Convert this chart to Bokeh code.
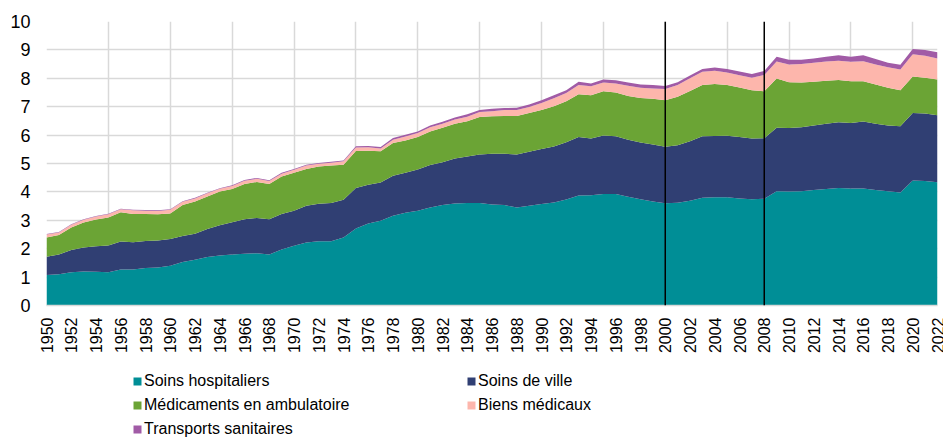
from math import pi
from bokeh.plotting import figure
from bokeh.layouts import column
from bokeh.models import ColumnDataSource, FixedTicker, Legend, LegendItem, Span
from bokeh.embed import file_html
from bokeh.resources import INLINE

years = list(range(1950, 2023))

soins_hospitaliers = [
    1.07, 1.10, 1.17, 1.20, 1.19, 1.17, 1.27, 1.27, 1.32, 1.34,
    1.40, 1.53, 1.61, 1.71, 1.76, 1.80, 1.82, 1.84, 1.80, 1.97,
    2.10, 2.22, 2.26, 2.26, 2.39, 2.71, 2.89, 2.98, 3.16, 3.27,
    3.34, 3.45, 3.54, 3.59, 3.61, 3.61, 3.56, 3.54, 3.45, 3.51,
    3.57, 3.63, 3.73, 3.87, 3.88, 3.93, 3.93, 3.83, 3.74, 3.66,
    3.60, 3.62, 3.69, 3.79, 3.81, 3.81, 3.77, 3.74, 3.76, 4.02,
    4.01, 4.02, 4.07, 4.10, 4.14, 4.12, 4.12, 4.07, 4.02, 3.98,
    4.40, 4.38, 4.34]

soins_de_ville = [
    0.65, 0.70, 0.78, 0.84, 0.90, 0.94, 0.98, 0.96, 0.95, 0.95,
    0.94, 0.92, 0.92, 0.98, 1.07, 1.13, 1.22, 1.24, 1.24, 1.25,
    1.24, 1.29, 1.32, 1.35, 1.33, 1.43, 1.36, 1.35, 1.41, 1.40,
    1.45, 1.50, 1.50, 1.59, 1.64, 1.71, 1.78, 1.80, 1.87, 1.90,
    1.94, 1.97, 2.02, 2.06, 2.00, 2.06, 2.03, 2.01, 2.00, 2.01,
    1.99, 2.02, 2.09, 2.17, 2.16, 2.17, 2.16, 2.14, 2.13, 2.24,
    2.24, 2.26, 2.27, 2.30, 2.31, 2.31, 2.36, 2.33, 2.32, 2.33,
    2.38, 2.38, 2.36]

medicaments_ambulatoire = [
    0.67, 0.68, 0.80, 0.88, 0.94, 0.99, 1.03, 0.99, 0.95, 0.92,
    0.90, 1.09, 1.13, 1.15, 1.18, 1.17, 1.24, 1.27, 1.24, 1.32,
    1.33, 1.30, 1.31, 1.32, 1.24, 1.30, 1.20, 1.10, 1.15, 1.14,
    1.14, 1.18, 1.22, 1.22, 1.24, 1.32, 1.32, 1.33, 1.35, 1.37,
    1.37, 1.42, 1.44, 1.51, 1.52, 1.55, 1.54, 1.54, 1.57, 1.61,
    1.64, 1.71, 1.77, 1.80, 1.83, 1.78, 1.75, 1.70, 1.65, 1.73,
    1.61, 1.57, 1.54, 1.51, 1.49, 1.47, 1.42, 1.38, 1.33, 1.27,
    1.28, 1.26, 1.26]

biens_medicaux = [
    0.11, 0.09, 0.09, 0.10, 0.10, 0.11, 0.11, 0.13, 0.12, 0.12,
    0.13, 0.11, 0.11, 0.11, 0.10, 0.11, 0.11, 0.11, 0.10, 0.10,
    0.11, 0.12, 0.10, 0.10, 0.12, 0.12, 0.12, 0.10, 0.12, 0.14,
    0.14, 0.15, 0.14, 0.15, 0.16, 0.17, 0.18, 0.21, 0.21, 0.21,
    0.25, 0.28, 0.29, 0.32, 0.32, 0.31, 0.32, 0.36, 0.36, 0.36,
    0.39, 0.41, 0.45, 0.47, 0.47, 0.44, 0.43, 0.44, 0.58, 0.60,
    0.63, 0.65, 0.67, 0.68, 0.68, 0.68, 0.70, 0.71, 0.72, 0.73,
    0.79, 0.77, 0.74]

transports_sanitaires = [
    0.02, 0.02, 0.02, 0.02, 0.02, 0.02, 0.02, 0.02, 0.02, 0.02,
    0.02, 0.02, 0.02, 0.02, 0.02, 0.02, 0.03, 0.03, 0.03, 0.03,
    0.03, 0.03, 0.03, 0.03, 0.03, 0.05, 0.05, 0.05, 0.06, 0.06,
    0.06, 0.06, 0.07, 0.07, 0.08, 0.07, 0.09, 0.07, 0.08, 0.09,
    0.10, 0.10, 0.10, 0.12, 0.10, 0.11, 0.11, 0.11, 0.11, 0.12,
    0.11, 0.10, 0.10, 0.10, 0.11, 0.13, 0.13, 0.13, 0.14, 0.17,
    0.16, 0.15, 0.15, 0.17, 0.19, 0.18, 0.21, 0.19, 0.16, 0.17,
    0.18, 0.21, 0.22]

series_names = ["Soins hospitaliers", "Soins de ville", "Médicaments en ambulatoire",
                "Biens médicaux", "Transports sanitaires"]
series_keys = ["hosp", "ville", "medic", "biens", "transp"]
series_colors = ["#008E96", "#303F73", "#6BA435", "#FDB6AC", "#A15BA6"]

x_tick_years = list(range(1950, 2023, 2))
x_grid_years = list(range(1950, 2021, 5))
y_ticks = list(range(0, 11))
break_years = [2000, 2008]

FONT = "Liberation Sans"

src = ColumnDataSource(dict(year=years, hosp=soins_hospitaliers, ville=soins_de_ville,
                            medic=medicaments_ambulatoire, biens=biens_medicaux,
                            transp=transports_sanitaires))

# ---- main chart ----
p = figure(width=943, height=360, x_range=(1950, 2022), y_range=(0, 10),
           output_backend="svg", toolbar_location=None,
           min_border_left=46, min_border_right=6, min_border_top=21,
           min_border_bottom=55)
p.outline_line_color = None
p.background_fill_color = "white"
p.border_fill_color = "white"

renderers = p.varea_stack(stackers=series_keys, x="year", color=series_colors, source=src)

for yr in break_years:
    p.add_layout(Span(location=yr, dimension="height", line_color="black", line_width=1.5))

p.xgrid.ticker = FixedTicker(ticks=x_grid_years)
p.ygrid.ticker = FixedTicker(ticks=y_ticks)
for g in (p.xgrid, p.ygrid):
    g.grid_line_color = "#d9d9d9"
    g.grid_line_width = 1.5

p.xaxis.ticker = FixedTicker(ticks=x_tick_years)
p.xaxis.major_label_orientation = pi / 2
p.xaxis.major_label_text_font = FONT
p.xaxis.major_label_text_font_size = "16px"
p.xaxis.major_label_text_color = "black"
p.xaxis.axis_line_color = "#d9d9d9"
p.xaxis.axis_line_width = 1.5
p.xaxis.major_tick_line_color = None
p.xaxis.minor_tick_line_color = None
p.xaxis.major_tick_out = 0
p.xaxis.major_label_standoff = 12

p.yaxis.ticker = FixedTicker(ticks=y_ticks)
p.yaxis.major_label_text_font = FONT
p.yaxis.major_label_text_font_size = "18px"
p.yaxis.major_label_text_color = "black"
p.yaxis.axis_line_color = None
p.yaxis.major_tick_line_color = None
p.yaxis.minor_tick_line_color = None
p.yaxis.major_tick_out = 0
p.yaxis.major_label_standoff = 16

# ---- legend strip (frame aligned with main chart by the column layout) ----
lf = figure(width=943, height=77, x_range=(0, 1), y_range=(0, 1),
            output_backend="svg", toolbar_location=None,
            x_axis_location=None, y_axis_location=None,
            min_border=0)
lf.outline_line_color = None
lf.xgrid.visible = False
lf.ygrid.visible = False
# zero-height carriers for the legend swatches (draw nothing themselves)
legend_renderers = [lf.varea(x="year", y1=k, y2=k, fill_color=c, source=src)
                    for k, c in zip(series_keys, series_colors)]


def make_legend(idx, loc):
    items = [LegendItem(label=series_names[i], renderers=[legend_renderers[i]]) for i in idx]
    return Legend(items=items, location=loc, glyph_width=10, glyph_height=10,
                  label_standoff=2, label_height=20, spacing=4, padding=0, margin=0,
                  border_line_color=None, background_fill_alpha=0,
                  label_text_font=FONT, label_text_font_size="16px",
                  label_text_color="black")


lf.add_layout(make_legend([0, 2, 4], (86, -2)))
lf.add_layout(make_legend([1, 3], (420, 22)))

layout = column(p, lf, spacing=0)

open("out.html", "w").write(file_html(layout, INLINE))
